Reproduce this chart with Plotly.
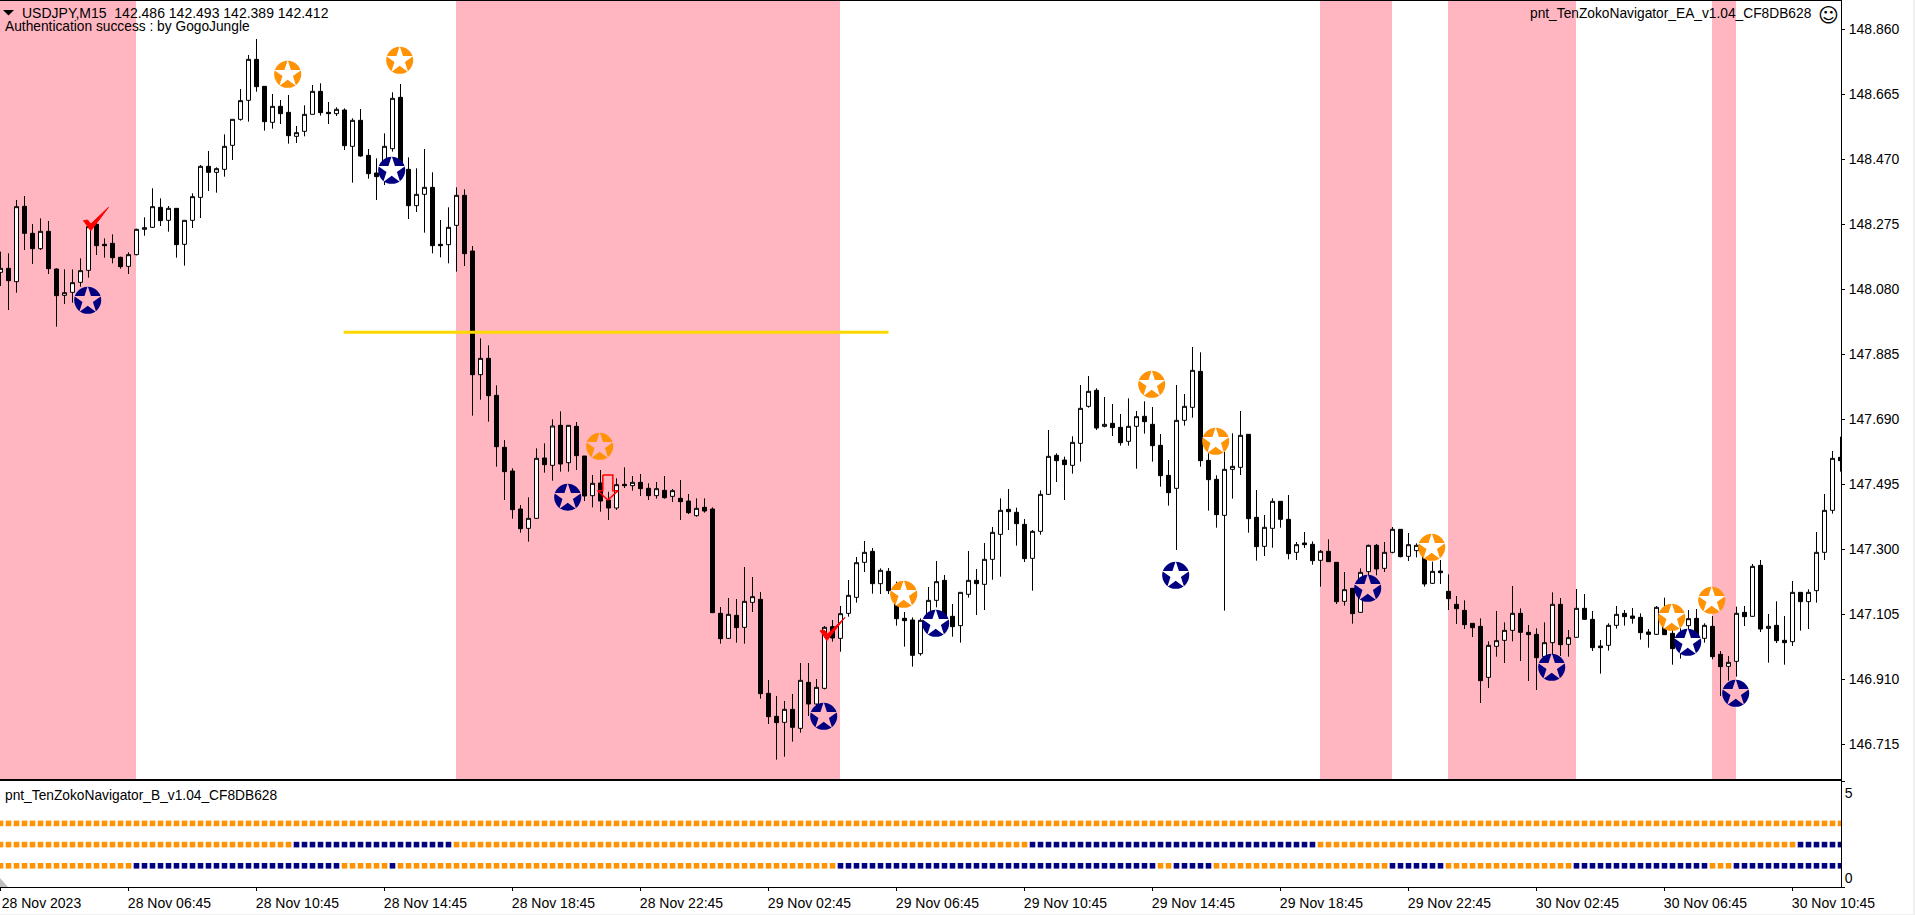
"""
USDJPY M15 chart with TenZoko Navigator signals
"""

import plotly.graph_objects as go

# M15 bars, oldest first
opens = [
    148.130, 148.142, 148.102, 148.328, 148.247, 148.201, 148.253, 148.140, 148.061, 148.070,
    148.100, 148.136, 148.274, 148.214, 148.217, 148.175, 148.148, 148.183, 148.259, 148.265,
    148.325, 148.286, 148.322, 148.214, 148.286, 148.355, 148.448, 148.430, 148.439, 148.511,
    148.589, 148.646, 148.769, 148.688, 148.580, 148.628, 148.610, 148.538, 148.553, 148.604,
    148.673, 148.610, 148.606, 148.617, 148.508, 148.586, 148.481, 148.428, 148.427, 148.501,
    148.655, 148.439, 148.330, 148.364, 148.385, 148.214, 148.213, 148.271, 148.361, 148.194,
    147.823, 147.872, 147.761, 147.605, 147.534, 147.420, 147.362, 147.392, 147.573, 147.551,
    147.671, 147.559, 147.668, 147.579, 147.460, 147.498, 147.447, 147.423, 147.494, 147.490,
    147.500, 147.482, 147.460, 147.476, 147.458, 147.452, 147.444, 147.400, 147.425, 147.420,
    147.107, 147.032, 147.101, 147.065, 147.140, 147.149, 146.867, 146.798, 146.780, 146.819,
    146.762, 146.900, 146.835, 146.882, 147.067, 147.032, 147.107, 147.155, 147.260, 147.293,
    147.196, 147.233, 147.175, 147.092, 147.087, 146.986, 147.086, 147.146, 147.206, 147.098,
    147.070, 147.164, 147.206, 147.194, 147.269, 147.344, 147.419, 147.410, 147.374, 147.272,
    147.353, 147.464, 147.581, 147.567, 147.551, 147.617, 147.728, 147.776, 147.668, 147.677,
    147.665, 147.623, 147.668, 147.698, 147.674, 147.611, 147.521, 147.482, 147.686, 147.725,
    147.833, 147.566, 147.509, 147.401, 147.539, 147.545, 147.644, 147.395, 147.308, 147.362,
    147.443, 147.389, 147.290, 147.318, 147.314, 147.266, 147.293, 147.260, 147.143, 147.182,
    147.110, 147.232, 147.311, 147.242, 147.290, 147.359, 147.278, 147.295, 147.305, 147.197,
    147.234, 147.173, 147.134, 147.116, 147.077, 147.068, 146.915, 147.008, 147.026, 147.056,
    147.107, 147.050, 147.044, 146.977, 147.019, 147.134, 147.014, 147.035, 147.122, 147.089,
    147.009, 147.011, 147.071, 147.107, 147.099, 147.095, 147.051, 147.044, 147.107, 147.047,
    147.001, 147.070, 147.092, 147.032, 147.068, 146.984, 146.948, 146.963, 147.110, 147.098,
    147.251, 147.062, 147.071, 147.026, 147.022, 147.170, 147.142, 147.175, 147.290, 147.416,
    147.575,
]
closes = [
    148.142, 148.105, 148.327, 148.247, 148.201, 148.253, 148.141, 148.060, 148.069, 148.099,
    148.135, 148.267, 148.210, 148.210, 148.174, 148.147, 148.183, 148.259, 148.264, 148.327,
    148.285, 148.322, 148.213, 148.286, 148.357, 148.448, 148.430, 148.441, 148.508, 148.589,
    148.645, 148.769, 148.687, 148.582, 148.628, 148.606, 148.540, 148.549, 148.604, 148.673,
    148.609, 148.606, 148.619, 148.510, 148.586, 148.479, 148.426, 148.417, 148.508, 148.652,
    148.437, 148.330, 148.364, 148.385, 148.210, 148.210, 148.265, 148.361, 148.186, 147.823,
    147.872, 147.760, 147.607, 147.532, 147.418, 147.361, 147.392, 147.572, 147.553, 147.669,
    147.555, 147.671, 147.580, 147.459, 147.497, 147.444, 147.423, 147.493, 147.490, 147.500,
    147.481, 147.460, 147.481, 147.454, 147.475, 147.442, 147.409, 147.422, 147.414, 147.109,
    147.031, 147.104, 147.064, 147.143, 147.157, 146.866, 146.797, 146.779, 146.819, 146.765,
    146.906, 146.835, 146.885, 147.065, 147.033, 147.106, 147.161, 147.259, 147.290, 147.196,
    147.236, 147.175, 147.091, 147.085, 146.981, 147.086, 147.146, 147.202, 147.099, 147.067,
    147.170, 147.206, 147.196, 147.269, 147.350, 147.416, 147.412, 147.376, 147.271, 147.353,
    147.464, 147.578, 147.565, 147.553, 147.620, 147.722, 147.773, 147.663, 147.674, 147.664,
    147.619, 147.668, 147.697, 147.682, 147.610, 147.520, 147.469, 147.686, 147.728, 147.836,
    147.565, 147.508, 147.403, 147.539, 147.548, 147.641, 147.391, 147.307, 147.365, 147.443,
    147.389, 147.286, 147.313, 147.313, 147.265, 147.293, 147.262, 147.142, 147.178, 147.106,
    147.230, 147.311, 147.240, 147.290, 147.359, 147.277, 147.313, 147.311, 147.195, 147.233,
    147.229, 147.151, 147.121, 147.073, 147.064, 146.905, 147.011, 147.025, 147.056, 147.107,
    147.050, 147.043, 146.974, 147.019, 147.134, 147.013, 147.034, 147.122, 147.089, 147.004,
    147.004, 147.071, 147.104, 147.097, 147.092, 147.049, 147.044, 147.125, 147.043, 147.001,
    147.047, 147.091, 147.037, 147.071, 146.977, 146.947, 146.960, 147.107, 147.097, 147.248,
    147.060, 147.068, 147.025, 147.019, 147.170, 147.142, 147.170, 147.290, 147.416, 147.572,
    147.565,
]
highs = [
    148.192, 148.187, 148.347, 148.359, 148.275, 148.292, 148.284, 148.142, 148.139, 148.139,
    148.172, 148.267, 148.277, 148.232, 148.244, 148.177, 148.190, 148.261, 148.295, 148.382,
    148.352, 148.329, 148.322, 148.287, 148.367, 148.452, 148.494, 148.445, 148.544, 148.589,
    148.680, 148.782, 148.830, 148.689, 148.665, 148.647, 148.662, 148.569, 148.631, 148.692,
    148.697, 148.641, 148.625, 148.622, 148.592, 148.620, 148.500, 148.472, 148.547, 148.670,
    148.695, 148.475, 148.442, 148.500, 148.430, 148.287, 148.325, 148.385, 148.379, 148.209,
    147.932, 147.911, 147.791, 147.627, 147.542, 147.432, 147.455, 147.602, 147.617, 147.689,
    147.713, 147.672, 147.681, 147.579, 147.522, 147.537, 147.472, 147.512, 147.545, 147.519,
    147.525, 147.497, 147.501, 147.519, 147.480, 147.507, 147.465, 147.452, 147.452, 147.425,
    147.126, 147.153, 147.150, 147.246, 147.216, 147.171, 146.907, 146.859, 146.844, 146.865,
    146.958, 146.958, 146.910, 147.069, 147.087, 147.129, 147.207, 147.276, 147.324, 147.303,
    147.242, 147.243, 147.202, 147.111, 147.095, 147.092, 147.186, 147.264, 147.222, 147.135,
    147.170, 147.294, 147.240, 147.318, 147.366, 147.452, 147.480, 147.424, 147.390, 147.357,
    147.476, 147.657, 147.587, 147.577, 147.638, 147.792, 147.819, 147.782, 147.756, 147.735,
    147.705, 147.752, 147.714, 147.743, 147.726, 147.645, 147.567, 147.792, 147.765, 147.906,
    147.890, 147.587, 147.521, 147.592, 147.647, 147.714, 147.644, 147.477, 147.402, 147.452,
    147.443, 147.462, 147.321, 147.351, 147.323, 147.297, 147.329, 147.260, 147.231, 147.182,
    147.242, 147.313, 147.315, 147.321, 147.366, 147.359, 147.348, 147.317, 147.307, 147.262,
    147.267, 147.224, 147.159, 147.146, 147.077, 147.092, 147.023, 147.114, 147.080, 147.189,
    147.122, 147.072, 147.062, 147.080, 147.170, 147.153, 147.057, 147.180, 147.165, 147.114,
    147.027, 147.077, 147.129, 147.117, 147.123, 147.107, 147.060, 147.129, 147.154, 147.067,
    147.062, 147.117, 147.120, 147.077, 147.099, 146.994, 146.979, 147.127, 147.129, 147.255,
    147.267, 147.105, 147.143, 147.099, 147.204, 147.170, 147.179, 147.351, 147.465, 147.594,
    147.637,
]
lows = [
    148.089, 148.017, 148.069, 148.197, 148.155, 148.197, 148.125, 147.967, 148.035, 148.039,
    148.087, 148.114, 148.182, 148.174, 148.157, 148.141, 148.125, 148.181, 148.240, 148.263,
    148.269, 148.252, 148.174, 148.150, 148.263, 148.293, 148.374, 148.369, 148.417, 148.467,
    148.585, 148.582, 148.672, 148.555, 148.561, 148.575, 148.516, 148.518, 148.538, 148.603,
    148.600, 148.575, 148.599, 148.497, 148.399, 148.477, 148.411, 148.347, 148.392, 148.492,
    148.432, 148.290, 148.311, 148.249, 148.187, 148.175, 148.157, 148.132, 148.149, 147.700,
    147.748, 147.682, 147.547, 147.447, 147.391, 147.349, 147.322, 147.390, 147.529, 147.505,
    147.532, 147.532, 147.537, 147.444, 147.425, 147.412, 147.387, 147.417, 147.483, 147.475,
    147.459, 147.447, 147.451, 147.451, 147.441, 147.387, 147.405, 147.397, 147.409, 147.109,
    147.016, 147.030, 147.019, 147.016, 147.111, 146.851, 146.775, 146.668, 146.677, 146.722,
    146.749, 146.799, 146.827, 146.879, 147.022, 146.992, 147.097, 147.139, 147.231, 147.166,
    147.165, 147.165, 147.070, 147.007, 146.947, 146.980, 147.084, 147.125, 147.097, 147.037,
    147.019, 147.154, 147.102, 147.117, 147.208, 147.217, 147.357, 147.310, 147.261, 147.175,
    147.343, 147.462, 147.501, 147.447, 147.526, 147.562, 147.724, 147.657, 147.665, 147.639,
    147.610, 147.610, 147.541, 147.646, 147.562, 147.487, 147.430, 147.297, 147.670, 147.694,
    147.547, 147.415, 147.364, 147.115, 147.451, 147.522, 147.349, 147.265, 147.279, 147.304,
    147.364, 147.269, 147.267, 147.303, 147.253, 147.187, 147.261, 147.135, 147.130, 147.076,
    147.109, 147.217, 147.221, 147.231, 147.287, 147.275, 147.264, 147.275, 147.187, 147.195,
    147.195, 147.117, 147.075, 147.060, 147.036, 146.838, 146.883, 146.977, 146.958, 147.023,
    146.964, 146.904, 146.877, 146.972, 146.947, 146.979, 146.977, 147.034, 147.087, 146.994,
    146.926, 146.995, 147.061, 147.070, 147.076, 147.028, 147.004, 147.042, 147.042, 146.953,
    146.971, 147.037, 147.019, 147.019, 146.969, 146.859, 146.905, 146.917, 147.069, 147.097,
    147.051, 146.959, 147.018, 146.953, 147.009, 147.055, 147.060, 147.139, 147.267, 147.406,
    147.532,
]
bars = list(range(len(closes)))

# axis labels
price_ticks = [148.860, 148.665, 148.470, 148.275, 148.080, 147.885,
               147.690, 147.495, 147.300, 147.105, 146.910, 146.715]
time_ticks = [0, 16, 32, 48, 64, 80, 96, 112, 128, 144, 160, 176, 192, 208, 224]
time_labels = ['28 Nov 2023', '28 Nov 06:45', '28 Nov 10:45', '28 Nov 14:45', '28 Nov 18:45',
               '28 Nov 22:45', '29 Nov 02:45', '29 Nov 06:45', '29 Nov 10:45', '29 Nov 14:45',
               '29 Nov 18:45', '29 Nov 22:45', '30 Nov 02:45', '30 Nov 06:45', '30 Nov 10:45']

# pink zones, as bar index from/to
zone_start = [-0.0625, 56.94, 164.94, 180.94, 213.94]
zone_end = [16.94, 104.94, 173.94, 196.94, 216.94]

# signal icons
orange_bar = [35.9, 49.9, 74.9, 112.9, 143.9, 151.9, 178.9, 208.9, 213.9]
orange_price = [148.724, 148.766, 147.608, 147.164, 147.794, 147.623, 147.305, 147.095, 147.146]
navy_bar = [10.9, 48.9, 70.9, 102.9, 116.9, 146.9, 170.9, 193.9, 210.9, 216.9]
navy_price = [148.046, 148.436, 147.455, 146.798, 147.077, 147.221, 147.182, 146.945, 147.020, 146.867]

# red check marks and down arrow outline
check1_bar = [10.38, 10.88, 11.29, 13.50, 11.29, 10.38]
check1_price = [148.285, 148.287, 148.275, 148.325, 148.255, 148.285]
check2_bar = [102.46, 102.96, 103.38, 105.58, 103.29, 102.46]
check2_price = [147.055, 147.057, 147.045, 147.095, 147.025, 147.055]
arrow_bar = [75.29, 76.54, 76.54, 77.21, 75.92, 74.63, 75.29, 75.29]
arrow_price = [147.522, 147.522, 147.475, 147.475, 147.447, 147.475, 147.475, 147.522]

# yellow level
level_bar = [42.9, 111.0]
level_price = [147.950, 147.950]

# lower panel: rows 3/2/1, first and last bar of each navy run
row_values = [3, 2, 1]
row_navy_runs = {
    3: [],
    2: [(37, 56), (129, 164), (225, 230)],
    1: [(17, 42), (49, 49), (105, 144), (147, 151), (174, 180), (197, 213), (217, 230)],
}

PINK = '#FFB6C1'
ORANGE = '#FF9305'
NAVY = '#000080'
FONT = 'Liberation Sans'
PLOT_W = 1841
PAGE_H = 915


def in_zone(bar):
    return any(a <= bar <= b for a, b in zip(zone_start, zone_end))


def add_icons(fig, xs, ys, color):
    # the star is a hole in the icon, so it takes the colour behind it
    fig.add_trace(go.Scatter(x=xs, y=ys, mode='markers', xaxis='x', yaxis='y',
                             marker=dict(symbol='circle', size=27, color=color, line=dict(width=0))))
    fig.add_trace(go.Scatter(x=xs, y=ys, mode='markers', xaxis='x', yaxis='y',
                             marker=dict(symbol='star', size=20.5, line=dict(width=0),
                                         color=[PINK if in_zone(b) else 'white' for b in xs])))


fig = go.Figure()

fig.add_trace(go.Candlestick(
    x=bars, open=opens, high=highs, low=lows, close=closes,
    xaxis='x', yaxis='y', whiskerwidth=0,
    increasing=dict(line=dict(color='black', width=1), fillcolor='white'),
    decreasing=dict(line=dict(color='black', width=1), fillcolor='black'),
))

fig.add_trace(go.Scatter(x=level_bar, y=level_price, mode='lines', xaxis='x', yaxis='y',
                         line=dict(color='#FFD700', width=3)))

add_icons(fig, orange_bar, orange_price, ORANGE)
add_icons(fig, navy_bar, navy_price, NAVY)

for xs, ys in [(check1_bar, check1_price), (check2_bar, check2_price)]:
    fig.add_trace(go.Scatter(x=xs, y=ys, mode='lines', fill='toself', fillcolor='#FF0000',
                             xaxis='x', yaxis='y', line=dict(color='#FF0000', width=1)))
fig.add_trace(go.Scatter(x=arrow_bar, y=arrow_price, mode='lines', xaxis='x', yaxis='y',
                         line=dict(color='#FF0000', width=1.5)))

for row in row_values:
    colors = []
    for b in bars:
        navy = any(a <= b <= z for a, z in row_navy_runs[row])
        colors.append(NAVY if navy else ORANGE)
    fig.add_trace(go.Scatter(x=bars, y=[row] * len(bars), mode='markers', xaxis='x2', yaxis='y2',
                             marker=dict(symbol='square', size=5.6, color=colors, line=dict(width=0))))


def px_x(v):
    return v / PLOT_W


def px_y(v):
    return 1 - v / PAGE_H


shapes = [dict(type='rect', xref='x', yref='paper', x0=a, x1=b, y0=px_y(779), y1=px_y(1),
               fillcolor=PINK, line=dict(width=0), layer='below')
          for a, b in zip(zone_start, zone_end)]
# window edge, the header triangle and the little corner triangle of the lower panel
shapes.append(dict(type='rect', xref='paper', yref='paper', x0=px_x(1913), x1=px_x(1915), y0=0, y1=1,
                   fillcolor='#F0F0F0', line=dict(width=0)))
shapes.append(dict(type='rect', xref='paper', yref='paper', x0=0, x1=px_x(1915), y0=0, y1=px_y(914),
                   fillcolor='#F0F0F0', line=dict(width=0)))
shapes.append(dict(type='path', xref='paper', yref='paper',
                   path=f'M 0 {px_y(887)} L {px_x(8)} {px_y(887)} L 0 {px_y(878)} Z',
                   fillcolor='#C0C0C0', line=dict(width=0)))
shapes.append(dict(type='path', xref='paper', yref='paper',
                   path=f'M {px_x(3)} {px_y(10)} L {px_x(14)} {px_y(10)} L {px_x(8.5)} {px_y(15.5)} Z',
                   fillcolor='black', line=dict(width=0)))

header_font = dict(family=FONT, size=14, color='black')
label_font = dict(family=FONT, size=13.75, color='black')
annotations = [
    dict(text='USDJPY,M15  142.486 142.493 142.389 142.412', x=px_x(20), y=px_y(13), font=header_font),
    dict(text='Authentication success : by GogoJungle', x=px_x(3), y=px_y(26), font=label_font),
    dict(text='pnt_TenZokoNavigator_B_v1.04_CF8DB628', x=px_x(3), y=px_y(795), font=label_font),
]
for a in annotations:
    a.update(xref='paper', yref='paper', xanchor='left', yanchor='middle', showarrow=False)
annotations.append(dict(text='pnt_TenZokoNavigator_EA_v1.04_CF8DB628', x=px_x(1814), y=px_y(14),
                        xref='paper', yref='paper', xanchor='right', yanchor='middle',
                        showarrow=False, font=label_font))
annotations.append(dict(text='☺', x=px_x(1828), y=px_y(15), xref='paper', yref='paper',
                        xanchor='center', yanchor='middle', showarrow=False,
                        font=dict(family='DejaVu Sans', size=20, color='black')))

fig.update_layout(
    width=1915, height=915,
    margin=dict(l=0, r=74, t=0, b=0),
    paper_bgcolor='white', plot_bgcolor='rgba(0,0,0,0)',
    showlegend=False, hovermode=False, boxgap=0.5, boxgroupgap=0,
    font=dict(family=FONT, size=14, color='black'),
    shapes=shapes, annotations=annotations,
    xaxis=dict(domain=[0, 1], range=[-0.0625, 230.0625], anchor='y', showgrid=False, zeroline=False,
               showticklabels=False, ticks='', showline=True, linecolor='black', linewidth=1,
               mirror=True, rangeslider=dict(visible=False)),
    yaxis=dict(domain=[px_y(779), px_y(1)], range=[146.610, 148.944], side='right', anchor='x',
               showgrid=False, zeroline=False, tickmode='array', tickvals=price_ticks,
               tickformat='.3f', ticks='outside', ticklen=3, ticklabelstandoff=1, tickcolor='black',
               showline=True, linecolor='black', linewidth=1),
    xaxis2=dict(domain=[0, 1], range=[-0.0625, 230.0625], anchor='y2', showgrid=False, zeroline=False,
                tickmode='array', tickvals=time_ticks, ticktext=time_labels, tickangle=0,
                ticks='outside', ticklen=3, tickcolor='black', ticklabelshift=41,
                showline=True, linecolor='black', linewidth=1, mirror=True),
    yaxis2=dict(domain=[px_y(887), px_y(781)], range=[0, 5], side='right', anchor='x2',
                showgrid=False, zeroline=False, tickmode='array', tickvals=[0.42, 4.45], ticktext=['0', '5'],
                ticks='', minor=dict(tickmode='array', tickvals=[0, 5], ticks='outside', ticklen=3, tickcolor='black'),
                showline=True, linecolor='black', linewidth=1),
)

fig.write_html("out.html", config={'displayModeBar': False},
               post_script="document.body.style.margin='0';document.body.style.overflow='hidden';")
